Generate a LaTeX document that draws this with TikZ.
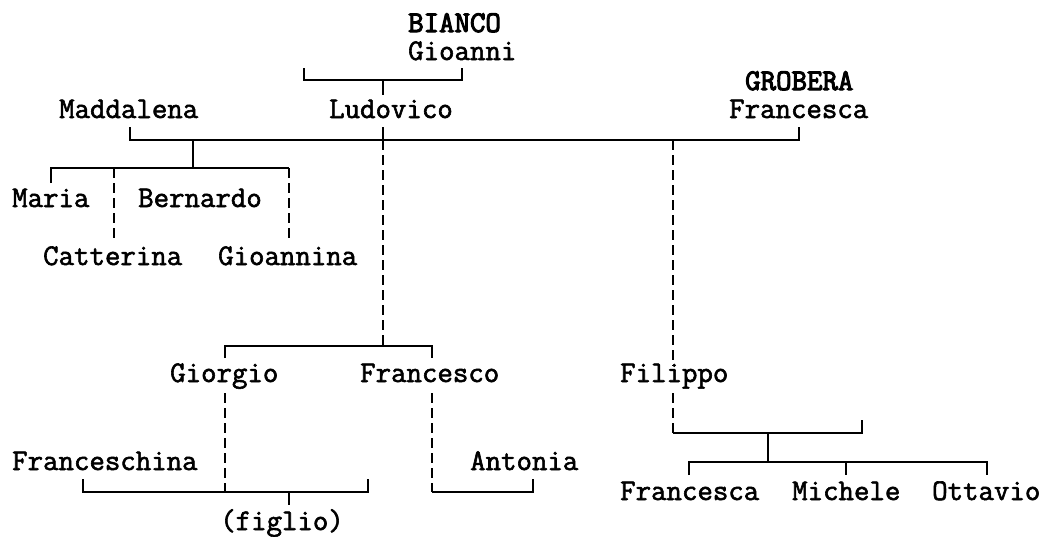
\documentclass[tikz,border=0pt]{standalone}
\usepackage{fontspec}
\newfontfamily\treefont{Latin Modern Mono}[FakeBold=2]
\newfontfamily\surnamefont{Latin Modern Mono}[FakeBold=3.5]
\begin{document}
\begin{tikzpicture}[x=1pt,y=-1pt,
  person/.style={font=\treefont\fontsize{30}{30}\selectfont, anchor=base west, inner sep=0pt},
  surname/.style={person, font=\surnamefont\fontsize{30}{30}\selectfont},
  solidline/.style={line width=1.8pt, line join=miter},
  dashline/.style={line width=1.5pt, dash pattern=on 10pt off 5pt}]
\useasboundingbox (0,0) rectangle (1057,536);
% names
\node[surname] (bianco) at (408,32) {BIANCO};
\node[person] (gioanni) at (408,60) {Gioanni};
\node[surname] (grobera) at (745,90) {GROBERA};
\node[person] (francescaG) at (729,118) {Francesca};
\node[person] (maddalena) at (59,118) {Maddalena};
\node[person] (ludovico) at (329,118) {Ludovico};
\node[person] (maria) at (12,207) {Maria};
\node[person] (bernardo) at (138,207) {Bernardo};
\node[person] (catterina) at (43,265) {Catterina};
\node[person] (gioannina) at (218,265) {Gioannina};
\node[person] (giorgio) at (170,382) {Giorgio};
\node[person] (francesco) at (360,382) {Francesco};
\node[person] (filippo) at (620,382) {Filippo};
\node[person] (franceschina) at (12,470) {Franceschina};
\node[person] (antonia) at (470,470) {Antonia};
\node[person] (figlio) at (220,530) {(figlio)};
\node[person] (francescaF) at (620,500) {Francesca};
\node[person] (michele) at (792,500) {Michele};
\node[person] (ottavio) at (932,500) {Ottavio};
% junction coordinates
\coordinate (pA) at (304,68); \coordinate (pB) at (462,68);
\coordinate (pAC) at (383,80); \coordinate (pAD) at (383,95);
\coordinate (lT) at (383,127); \coordinate (mL) at (130,127); \coordinate (mR) at (799,127);
\coordinate (mdJ) at (193,140); \coordinate (mdK) at (193,168);
\coordinate (chL) at (51,183); \coordinate (chC) at (114,168); \coordinate (chR) at (289,168);
\coordinate (catT) at (114,240); \coordinate (gioT) at (289,240);
\coordinate (ldJ) at (383,140); \coordinate (ldK) at (383,346);
\coordinate (gL) at (225,358); \coordinate (gR) at (432,358);
\coordinate (gB1) at (225,393); \coordinate (gB2) at (225,492);
\coordinate (fsL) at (83,479); \coordinate (fsR) at (368,479);
\coordinate (fgT) at (289,492); \coordinate (fgB) at (289,505);
\coordinate (frB1) at (432,393); \coordinate (frB2) at (432,492); \coordinate (anR) at (533,479);
\coordinate (fiJ) at (673,140); \coordinate (fiT) at (673,366);
\coordinate (fiB1) at (673,393); \coordinate (fiB2) at (673,433); \coordinate (fiR) at (862,420);
\coordinate (fcJ) at (768,433); \coordinate (fcK) at (768,462);
\coordinate (k1) at (689,475); \coordinate (k2) at (846,475); \coordinate (k3) at (987,475);
% connectors
\draw[solidline] (pA) -- (pA |- pAC) -- (pB |- pAC) -- (pB);
\draw[solidline] (pAC) -- (pAD);
\draw[solidline] (mL) -- (mL |- ldJ) -- (mR |- ldJ) -- (mR);
\draw[solidline] (lT) -- (ldJ);
\draw[solidline] (mdJ) -- (mdK);
\draw[solidline] (chL) -- (chL |- chC) -- (chR);
\draw[dashline] (chC) -- (catT);
\draw[dashline] (chR) -- (gioT);
\draw[dashline] (ldJ) -- (ldK);
\draw[solidline] (gL) -- (gL |- ldK) -- (gR |- ldK) -- (gR);
\draw[dashline] (gB1) -- (gB2);
\draw[solidline] (fsL) -- (fsL |- gB2) -- (fsR |- gB2) -- (fsR);
\draw[solidline] (fgT) -- (fgB);
\draw[dashline] (frB1) -- (frB2);
\draw[solidline] (frB2) -- (anR |- frB2) -- (anR);
\draw[dashline] (fiJ) -- (fiT);
\draw[dashline] (fiB1) -- (fiB2);
\draw[solidline] (fiB2) -- (fiR |- fiB2) -- (fiR);
\draw[solidline] (fcJ) -- (fcK);
\draw[solidline] (k1) -- (k1 |- fcK) -- (k3 |- fcK) -- (k3);
\draw[solidline] (k2 |- fcK) -- (k2);
\end{tikzpicture}
\end{document}
